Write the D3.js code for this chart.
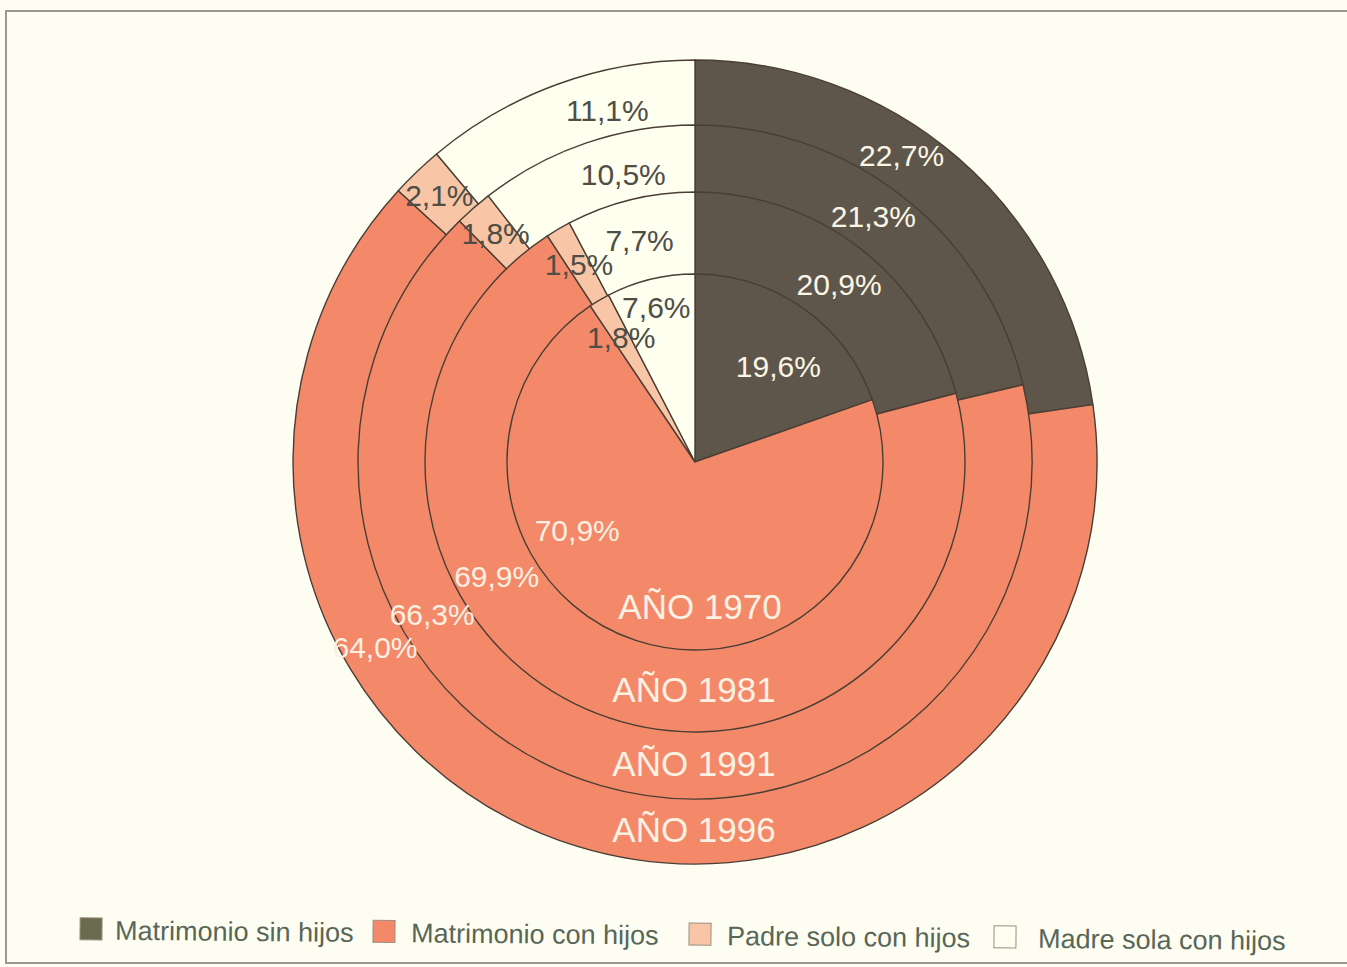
<!DOCTYPE html>
<html>
<head>
<meta charset="utf-8">
<script src="https://cdn.jsdelivr.net/npm/d3@7"></script>
<style>
  body { margin: 0; background: #fdfdf2; }
  svg { display: block; }
</style>
</head>
<body>
<div id="chart"></div>
<script>
// hogares por tipo, anillos concentricos por año
var categories = ["Matrimonio sin hijos", "Matrimonio con hijos", "Padre solo con hijos", "Madre sola con hijos"];
var years = ["1970", "1981", "1991", "1996"];
var values1970 = [19.6, 70.9, 1.8, 7.6];
var values1981 = [20.9, 69.9, 1.5, 7.7];
var values1991 = [21.3, 66.3, 1.8, 10.5];
var values1996 = [22.7, 64.0, 2.1, 11.1];
var seriesValues = [values1970, values1981, values1991, values1996];

var colors = ["#5e564a", "#f4896a", "#f8c6a6", "#fffff0"];
var legendColors = ["#6a6b4e", "#f4896a", "#f8c6a6", "#fffff0"];
var labelColors = ["#fbf6e6", "#fbf0e2", "#4e4e46", "#4e4e46"];

var width = 1347, height = 967,
    cx = 695, cy = 462;

var svg = d3.select("#chart").append("svg")
    .attr("width", width)
    .attr("height", height);

// background + frame
svg.append("rect")
    .attr("width", width).attr("height", height)
    .attr("fill", "#fdfdf2");
svg.append("rect")
    .attr("x", 6).attr("y", 11)
    .attr("width", 1360).attr("height", 952)
    .attr("fill", "none")
    .attr("stroke", "#9a9a92")
    .attr("stroke-width", 2);

// radius per year (ring outer edge)
var r = d3.scaleOrdinal()
    .domain(years)
    .range([188, 270, 337, 402]);

var pie = d3.pie().sort(null).value(function(d) { return d; });

var g = svg.append("g").attr("transform", "translate(" + cx + "," + cy + ")");

// draw largest first so smaller pies lie on top
var order = d3.range(years.length).reverse();

order.forEach(function(i) {
    var arc = d3.arc().innerRadius(0).outerRadius(r(years[i]));
    g.append("g").attr("class", "pie")
        .selectAll("path")
        .data(pie(seriesValues[i]))
      .enter().append("path")
        .attr("d", arc)
        .attr("fill", function(d, j) { return colors[j]; })
        .attr("stroke", "#4a3e34")
        .attr("stroke-width", 1.4);
});

// label placement (layout only)
var innerLabelR = [127, 136, 145, 160];  // inner pie, per category
var sinAngleDeg = [41, 39, 36, 34];       // sin hijos label, per ring
var conAngleDeg = 240;                    // con hijos labels sit lower left
var madreAngleDeg = 346;

function labelRadius(i, j) {
    if (i === 0) return innerLabelR[j];
    var mid = (r(years[i - 1]) + r(years[i])) / 2;
    return (j === 3 && i >= 2) ? mid - 7 : mid;
}
function labelAngle(d, i, j) {
    if (j === 0) return sinAngleDeg[i] * Math.PI / 180;
    if (j === 1) return conAngleDeg * Math.PI / 180;
    if (j === 3) return madreAngleDeg * Math.PI / 180;
    return (d.startAngle + d.endAngle) / 2;
}

function fmt(v) { return d3.format(".1f")(v).replace(".", ",") + "%"; }

years.forEach(function(y, i) {
    g.append("g").selectAll("text")
        .data(pie(seriesValues[i]))
      .enter().append("text")
        .attr("x", function(d, j) { return labelRadius(i, j) * Math.sin(labelAngle(d, i, j)); })
        .attr("y", function(d, j) { return -labelRadius(i, j) * Math.cos(labelAngle(d, i, j)); })
        .attr("dy", "0.36em")
        .attr("text-anchor", "middle")
        .style("font-family", "'Liberation Sans', Arial, sans-serif")
        .style("font-size", "30px")
        .attr("fill", function(d, j) { return labelColors[j]; })
        .text(function(d) { return fmt(d.data); });

    // year label at the bottom of the ring
    g.append("text")
        .attr("x", i === 0 ? 5 : -1)
        .attr("y", i === 0 ? 144 : labelRadius(i, 1) - 2)
        .attr("dy", "0.36em")
        .attr("text-anchor", "middle")
        .style("font-family", "'Liberation Sans', Arial, sans-serif")
        .style("font-size", "35px")
        .attr("fill", "#fbf2e4")
        .text("AÑO " + y);
});

// legend
var legendX = [80, 373, 689, 994];
var legendTextX = [115, 411, 727, 1038];
var legend = svg.append("g")
    .attr("transform", "rotate(0.5, 680, 935)");

var item = legend.selectAll(".item")
    .data(categories)
  .enter().append("g")
    .attr("class", "item");

item.append("rect")
    .attr("x", function(d, i) { return legendX[i]; })
    .attr("y", 923)
    .attr("width", 22).attr("height", 22)
    .attr("fill", function(d, i) { return legendColors[i]; })
    .attr("stroke", "#9a8f80")
    .attr("stroke-width", 1);

item.append("text")
    .attr("x", function(d, i) { return legendTextX[i]; })
    .attr("y", 935)
    .attr("dy", "0.36em")
    .style("font-family", "'Liberation Sans', Arial, sans-serif")
    .style("font-size", "27px")
    .attr("fill", "#586656")
    .text(function(d) { return d; });
</script>
</body>
</html>
